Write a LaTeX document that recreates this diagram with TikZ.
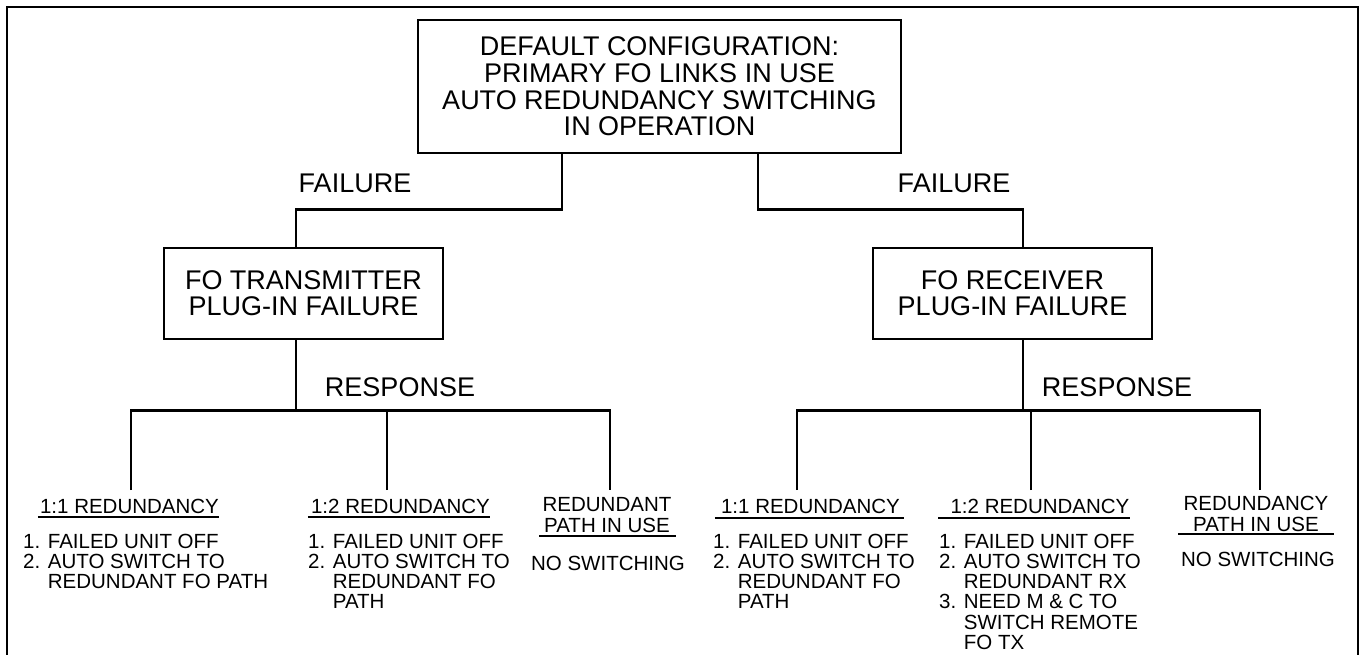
\documentclass[tikz,border=0pt]{standalone}
\usepackage{fontspec}
\setmainfont{Liberation Sans}
\newcommand\bigtxt{\fontsize{27}{26.7}\selectfont}
\newcommand\boxtxt{\fontsize{27}{26}\selectfont}
\newcommand\smalltxt{\fontsize{20.5}{20}\selectfont}
\begin{document}
\begin{tikzpicture}[x=1pt,y=-1pt,
  line/.style={line width=2.8pt},
  uline/.style={line width=2pt},
  box/.style={draw, line width=2.8pt, inner sep=0pt, align=center},
  lbl/.style={anchor=base, inner sep=0pt, font=\bigtxt},
  ttl/.style={anchor=base, inner sep=0pt, font=\smalltxt},
  lst/.style={anchor=base west, inner sep=0pt, font=\smalltxt},
  lone/.style={anchor=base, inner sep=0pt, font=\smalltxt}]

\fill[white] (0,0) rectangle (1361,655);
\useasboundingbox (0,0) rectangle (1361,655);

% outer frame, open at the bottom
\draw[line] (7,657) -- (7,7) -- (1358,7) -- (1358,657);

% boxes
\node[box, font=\bigtxt, minimum width=483pt, minimum height=133pt] (top) at (659.5,86.5)
  {DEFAULT CONFIGURATION:\\PRIMARY FO LINKS IN USE\\AUTO REDUNDANCY SWITCHING\\IN OPERATION};
\node[box, font=\boxtxt, minimum width=279pt, minimum height=91pt] (tx) at (303.5,293.5)
  {FO TRANSMITTER\\PLUG-IN FAILURE};
\node[box, font=\boxtxt, minimum width=279pt, minimum height=91pt] (rx) at (1012.5,293.5)
  {FO RECEIVER\\PLUG-IN FAILURE};

% failure branches
\draw[line] ([xshift=-97.5pt]top.south) -- ++(0,55) -| ([xshift=-7.5pt]tx.north);
\draw[line] ([xshift=98.5pt]top.south) -- ++(0,55) -| ([xshift=10.5pt]rx.north);
\node[lbl] (f1) at (355,193) {FAILURE};
\node[lbl] (f2) at (954,193) {FAILURE};

% response trees
\coordinate (eL1) at (131,490);
\coordinate (eL2) at (387,490);
\coordinate (eL3) at (610,490);
\coordinate (eR1) at (797,490);
\coordinate (eR2) at (1031,490);
\coordinate (eR3) at (1260,490);

\draw[line] ([xshift=-7.5pt]tx.south) -- ++(0,70) coordinate (jL);
\draw[line] (eL1) -- (eL1 |- jL) -- (eL3 |- jL) -- (eL3);
\draw[line] (eL2) -- (eL2 |- jL);
\draw[line] ([xshift=10.5pt]rx.south) -- ++(0,70) coordinate (jR);
\draw[line] (eR1) -- (eR1 |- jR) -- (eR3 |- jR) -- (eR3);
\draw[line] (eR2) -- (eR2 |- jR);
\node[lbl] (r1) at (400,396) {RESPONSE};
\node[lbl] (r2) at (1117,396) {RESPONSE};

% option titles
\node[ttl] (tL1) at (129.5,513) {1:1 REDUNDANCY};
\node[ttl] (tL2) at (400.5,513) {1:2 REDUNDANCY};
\node[ttl] (tL3) at (607,532) {\begin{tabular}[b]{@{}c@{}}REDUNDANT\\PATH IN USE\end{tabular}};
\node[ttl] (tR1) at (810.5,513) {1:1 REDUNDANCY};
\node[ttl] (tR2) at (1040,513) {1:2 REDUNDANCY};
\node[ttl] (tR3) at (1256,531) {\begin{tabular}[b]{@{}c@{}}REDUNDANCY\\PATH IN USE\end{tabular}};

\draw[uline] ([xshift=-2pt,yshift=-4pt]tL1.base west) -- ([yshift=-4pt]tL1.base east);
\draw[uline] ([xshift=-3pt,yshift=-4pt]tL2.base west) -- ([yshift=-4pt]tL2.base east);
\draw[uline] ([xshift=-3pt,yshift=-4pt]tL3.base west) -- ([xshift=4pt,yshift=-4pt]tL3.base east);
\draw[uline] ([xshift=-6pt,yshift=-5pt]tR1.base west) -- ([xshift=4pt,yshift=-5pt]tR1.base east);
\draw[uline] ([xshift=-12pt,yshift=-5pt]tR2.base west) -- ([yshift=-5pt]tR2.base east);
\draw[uline] ([xshift=-5pt,yshift=-3pt]tR3.base west) -- ([xshift=5pt,yshift=-3pt]tR3.base east);

% option details
\node[lst] (lL1) at (23,548) {\begin{tabular}[t]{@{}l@{}}1. FAILED UNIT OFF\\2. AUTO SWITCH TO\\\phantom{2. }REDUNDANT FO PATH\end{tabular}};
\node[lst] (lL2) at (308,548) {\begin{tabular}[t]{@{}l@{}}1. FAILED UNIT OFF\\2. AUTO SWITCH TO\\\phantom{2. }REDUNDANT FO\\\phantom{2. }PATH\end{tabular}};
\node[lone] (nL3) at (608,570) {NO SWITCHING};
\node[lst] (lR1) at (713,548) {\begin{tabular}[t]{@{}l@{}}1. FAILED UNIT OFF\\2. AUTO SWITCH TO\\\phantom{2. }REDUNDANT FO\\\phantom{2. }PATH\end{tabular}};
\node[lst] (lR2) at (939,548) {\begin{tabular}[t]{@{}l@{}}1. FAILED UNIT OFF\\2. AUTO SWITCH TO\\\phantom{2. }REDUNDANT RX\\3. NEED M \& C TO\\\phantom{3. }SWITCH REMOTE\\\phantom{3. }FO TX\end{tabular}};
\node[lone] (nR3) at (1258,566) {NO SWITCHING};
\end{tikzpicture}
\end{document}
